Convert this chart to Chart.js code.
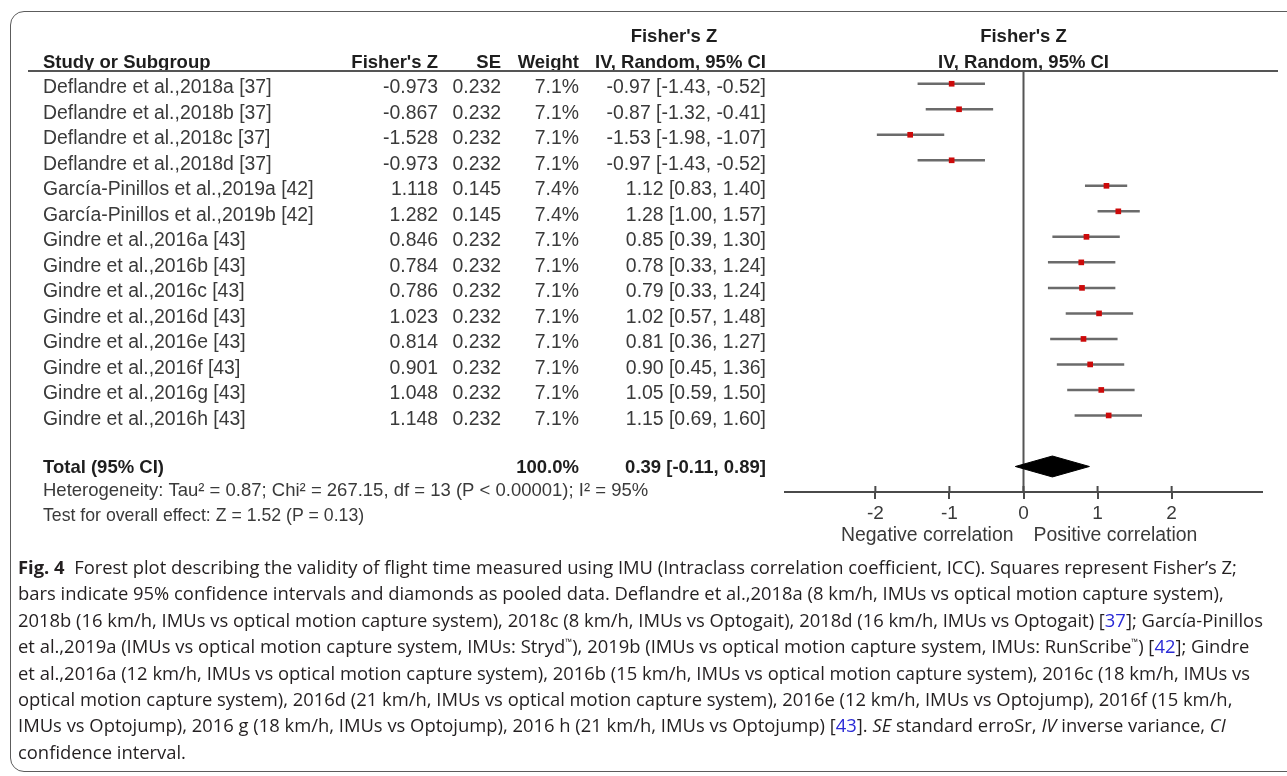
<!DOCTYPE html>
<html>
<head>
<meta charset="utf-8">
<script src="https://cdn.jsdelivr.net/npm/chart.js@4.4.0/dist/chart.umd.min.js"></script>
<style>
  html, body { margin: 0; padding: 0; background: #fff; }
  body { width: 1287px; height: 776px; position: relative; overflow: hidden; }
  #frame { position: absolute; left: 10px; top: 11px; width: 1320px; height: 761px;
           border: 1.5px solid #5c5c5c; border-radius: 14px; box-sizing: border-box; }
  #plot { position: absolute; left: 0; top: 0; }
  #caption { position: absolute; left: 18px; top: 554px; font-family: "Open Sans", "Noto Sans", sans-serif;
             font-size: 18.4px; line-height: 26.4px; color: #231f20; white-space: nowrap; letter-spacing: 0; }
  #caption b { font-weight: 700; }
  #caption .ref { color: #2a2ad6; }
  #caption sup { font-size: 9px; line-height: 0; vertical-align: 8px; }
</style>
</head>
<body>
<div id="frame"></div>
<canvas id="plot" width="1287" height="560"></canvas>
<div id="caption">
  <div><b>Fig. 4</b>&nbsp; Forest plot describing the validity of flight time measured using IMU (Intraclass correlation coefficient, ICC). Squares represent Fisher’s Z;</div>
  <div>bars indicate 95% confidence intervals and diamonds as pooled data. Deflandre et al.,2018a (8 km/h, IMUs vs optical motion capture system),</div>
  <div>2018b (16 km/h, IMUs vs optical motion capture system), 2018c (8 km/h, IMUs vs Optogait), 2018d (16 km/h, IMUs vs Optogait) [<span class="ref">37</span>]; García-Pinillos</div>
  <div>et al.,2019a (IMUs vs optical motion capture system, IMUs: Stryd<sup>™</sup>), 2019b (IMUs vs optical motion capture system, IMUs: RunScribe<sup>™</sup>) [<span class="ref">42</span>]; Gindre</div>
  <div>et al.,2016a (12 km/h, IMUs vs optical motion capture system), 2016b (15 km/h, IMUs vs optical motion capture system), 2016c (18 km/h, IMUs vs</div>
  <div>optical motion capture system), 2016d (21 km/h, IMUs vs optical motion capture system), 2016e (12 km/h, IMUs vs Optojump), 2016f (15 km/h,</div>
  <div>IMUs vs Optojump), 2016 g (18 km/h, IMUs vs Optojump), 2016 h (21 km/h, IMUs vs Optojump) [<span class="ref">43</span>]. <i>SE</i> standard erroSr, <i>IV</i> inverse variance, <i>CI</i></div>
  <div>confidence interval.</div>
</div>
<script>
// Study rows of the meta-analysis
const studies = [
  "Deflandre et al.,2018a [37]",
  "Deflandre et al.,2018b [37]",
  "Deflandre et al.,2018c [37]",
  "Deflandre et al.,2018d [37]",
  "García-Pinillos et al.,2019a [42]",
  "García-Pinillos et al.,2019b [42]",
  "Gindre et al.,2016a [43]",
  "Gindre et al.,2016b [43]",
  "Gindre et al.,2016c [43]",
  "Gindre et al.,2016d [43]",
  "Gindre et al.,2016e [43]",
  "Gindre et al.,2016f [43]",
  "Gindre et al.,2016g [43]",
  "Gindre et al.,2016h [43]"
];
const fisherZ = [-0.973, -0.867, -1.528, -0.973, 1.118, 1.282, 0.846, 0.784, 0.786, 1.023, 0.814, 0.901, 1.048, 1.148];
const stdErr  = [0.232, 0.232, 0.232, 0.232, 0.145, 0.145, 0.232, 0.232, 0.232, 0.232, 0.232, 0.232, 0.232, 0.232];
const weights = [7.1, 7.1, 7.1, 7.1, 7.4, 7.4, 7.1, 7.1, 7.1, 7.1, 7.1, 7.1, 7.1, 7.1];
const effect  = [-0.97, -0.87, -1.53, -0.97, 1.12, 1.28, 0.85, 0.78, 0.79, 1.02, 0.81, 0.90, 1.05, 1.15];
const ciLow   = [-1.43, -1.32, -1.98, -1.43, 0.83, 1.00, 0.39, 0.33, 0.33, 0.57, 0.36, 0.45, 0.59, 0.69];
const ciHigh  = [-0.52, -0.41, -1.07, -0.52, 1.40, 1.57, 1.30, 1.24, 1.24, 1.48, 1.27, 1.36, 1.50, 1.60];

// Pooled random-effects estimate
const totalWeight = 100.0;
const pooledEffect = 0.39;
const pooledLow = -0.11;
const pooledHigh = 0.89;

const xTickValues = [-2, -1, 0, 1, 2];
const heterogeneityText = "Heterogeneity: Tau\u00b2 = 0.87; Chi\u00b2 = 267.15, df = 13 (P < 0.00001); I\u00b2 = 95%";
const overallText = "Test for overall effect: Z = 1.52 (P = 0.13)";

const TOTAL_ROW = studies.length + 1;
const AXIS_ROW = TOTAL_ROW + 1;

const FONT = '"Liberation Sans", Arial, sans-serif';
const TEXT = '#3a3a3a';
const BOLD = '#1e1e1e';
const LINE = '#555555';

const fmt2 = v => v.toFixed(2);
const ciLabel = (e, l, h) => `${fmt2(e)} [${fmt2(l)}, ${fmt2(h)}]`;

// Horizontal confidence-interval whiskers, one per study
const whiskerSets = studies.map((s, i) => ({
  type: 'scatter', showLine: true,
  data: [{x: ciLow[i], y: i}, {x: ciHigh[i], y: i}],
  borderColor: '#6b6b6b', borderWidth: 2.5, pointRadius: 0, order: 3
}));

const datasets = [
  // line of no effect
  { type: 'scatter', showLine: true, data: [{x: 0, y: -0.5}, {x: 0, y: AXIS_ROW}],
    borderColor: LINE, borderWidth: 2, pointRadius: 0, order: 4 },
  ...whiskerSets,
  // point estimates
  { type: 'scatter', data: effect.map((e, i) => ({x: e, y: i})),
    pointStyle: 'rect', pointRadius: 4, backgroundColor: '#cc0a0a', borderWidth: 0, order: 1 },
  // pooled diamond
  { type: 'scatter', showLine: true, fill: 'shape',
    data: [
      {x: pooledLow, y: TOTAL_ROW}, {x: pooledEffect, y: TOTAL_ROW - 0.41},
      {x: pooledHigh, y: TOTAL_ROW}, {x: pooledEffect, y: TOTAL_ROW + 0.41},
      {x: pooledLow, y: TOTAL_ROW}
    ],
    borderColor: '#000', backgroundColor: '#000', borderWidth: 1, pointRadius: 0, tension: 0, order: 2 }
];

// Table columns and headers drawn beside the plot, aligned to the row scale
const forestTable = {
  id: 'forestTable',
  afterDraw(chart) {
    const ctx = chart.ctx;
    const ys = chart.scales.y, xs = chart.scales.x;
    const rowY = r => ys.getPixelForValue(r);
    const topY = rowY(-0.5);
    const axisY = chart.chartArea.bottom;
    const zeroX = xs.getPixelForValue(0);
    const plotMid = (chart.chartArea.left + chart.chartArea.right) / 2;
    const fontN = `19.4px ${FONT}`;
    const fontB = `bold 18.5px ${FONT}`;

    ctx.save();
    ctx.textBaseline = 'middle';

    // headers
    ctx.fillStyle = BOLD;
    ctx.font = fontB;
    const h1 = topY - 34, h2 = topY - 8;
    ctx.textAlign = 'center';
    ctx.fillText("Fisher's Z", 674, h1);
    ctx.fillText("Fisher's Z", plotMid, h1);
    ctx.fillText("IV, Random, 95% CI", plotMid, h2);
    ctx.textAlign = 'left';
    ctx.fillText("Study or Subgroup", 43, h2);
    ctx.textAlign = 'right';
    ctx.fillText("Fisher's Z", 438, h2);
    ctx.fillText("SE", 501, h2);
    ctx.fillText("Weight", 579, h2);
    ctx.fillText("IV, Random, 95% CI", 766, h2);

    // header rule
    ctx.strokeStyle = LINE;
    ctx.lineWidth = 2;
    ctx.beginPath();
    ctx.moveTo(28, topY); ctx.lineTo(1278, topY);
    ctx.stroke();

    // study rows
    ctx.font = fontN;
    ctx.fillStyle = TEXT;
    studies.forEach((name, i) => {
      const y = rowY(i) + 4;
      ctx.textAlign = 'left';
      ctx.fillText(name, 43, y);
      ctx.textAlign = 'right';
      ctx.fillText(fisherZ[i].toFixed(3), 438, y);
      ctx.fillText(stdErr[i].toFixed(3), 501, y);
      ctx.fillText(weights[i].toFixed(1) + '%', 579, y);
      ctx.fillText(ciLabel(effect[i], ciLow[i], ciHigh[i]), 766, y);
    });

    // total row
    const ty = rowY(TOTAL_ROW) + 1;
    ctx.font = fontB;
    ctx.fillStyle = BOLD;
    ctx.textAlign = 'left';
    ctx.fillText("Total (95% CI)", 43, ty);
    ctx.textAlign = 'right';
    ctx.fillText(totalWeight.toFixed(1) + '%', 579, ty);
    ctx.fillText(ciLabel(pooledEffect, pooledLow, pooledHigh), 766, ty);

    ctx.font = `18.5px ${FONT}`;
    ctx.fillStyle = TEXT;
    ctx.textAlign = 'left';
    ctx.fillText(heterogeneityText, 43, rowY(AXIS_ROW) - 1);
    ctx.font = `17.7px ${FONT}`;
    ctx.fillText(overallText, 43, rowY(AXIS_ROW + 1) - 1);

    // upper half of the tick marks
    ctx.strokeStyle = '#4a4a4a';
    ctx.lineWidth = 2;
    xs.ticks.forEach(t => {
      const px = xs.getPixelForValue(t.value);
      ctx.beginPath();
      ctx.moveTo(px, axisY - 6); ctx.lineTo(px, axisY);
      ctx.stroke();
    });

    // correlation direction labels under the axis
    ctx.font = fontN;
    ctx.fillStyle = TEXT;
    ctx.textAlign = 'right';
    ctx.fillText("Negative correlation", zeroX - 10, axisY + 44);
    ctx.textAlign = 'left';
    ctx.fillText("Positive correlation", zeroX + 10, axisY + 44);
    ctx.restore();
  }
};

new Chart(document.getElementById('plot'), {
  type: 'scatter',
  data: { datasets },
  options: {
    responsive: false,
    animation: false,
    layout: { padding: { left: 785, right: 25, top: 71, bottom: 28 } },
    plugins: { legend: { display: false }, tooltip: { enabled: false } },
    scales: {
      x: {
        type: 'linear', min: -3.22, max: 3.22, position: 'bottom',
        afterBuildTicks: s => { s.ticks = xTickValues.map(v => ({ value: v })); },
        afterFit: s => { s.height = 40; },
        grid: { drawOnChartArea: false, drawTicks: true, tickLength: 7, color: '#4a4a4a', lineWidth: 2 },
        border: { color: '#4a4a4a', width: 2 },
        ticks: { font: { family: FONT, size: 19 }, color: TEXT, padding: 3, autoSkip: false,
                 maxRotation: 0, callback: v => String(v) }
      },
      y: { type: 'linear', min: -0.5, max: AXIS_ROW, reverse: true, display: false }
    }
  },
  plugins: [forestTable]
});
</script>
</body>
</html>
